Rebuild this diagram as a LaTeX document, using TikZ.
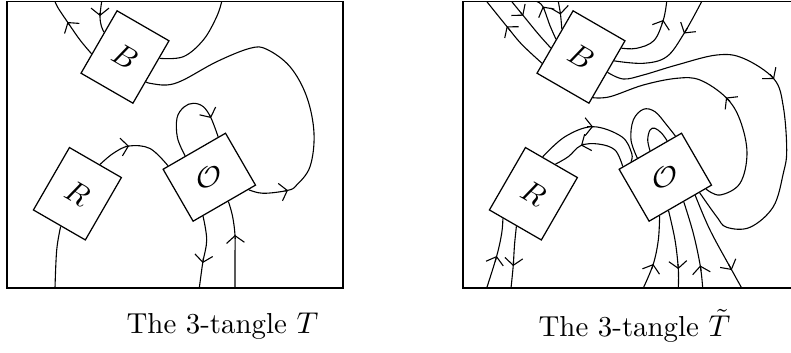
\documentclass[tikz,border=0pt]{standalone}
\usetikzlibrary{calc,arrows.meta}
\begin{document}
\begin{tikzpicture}[x=0.3636pt,y=-0.3636pt,
  strand/.style={line width=0.4pt},
  frame/.style={line width=0.55pt},
  tboxv/.style={draw, line width=0.45pt, inner sep=0pt, minimum width=21.8pt, minimum height=26.2pt, rotate=-30, font=\fontsize{10.5}{12.6}\selectfont},
  tboxh/.style={draw, line width=0.45pt, inner sep=0pt, minimum width=26.2pt, minimum height=21.8pt, rotate=30, font=\fontsize{10.5}{12.6}\selectfont},
  tip/.style={line width=0.4pt, -{Straight Barb[length=2.6pt,width=6.5pt]}},
  captext/.style={font=\fontsize{10.5}{12.6}\selectfont},
  sm/.style={smooth, tension=0.6}]
\useasboundingbox (0,0) rectangle (791,352);

% ---------------- left: T ----------------
\draw[frame] (7,1.5) rectangle (343,288);
\node[tboxv] (B) at (125,57) {$B$};
\node[tboxv] (R) at (77.4,193.75) {$R$};
\node[tboxh] (O) at (209.3,177.2) {\rotatebox{-30}{$\mathcal{O}$}};

\coordinate (t1) at (55,1.5);
\coordinate (t2) at (101.7,1.5);
\coordinate (t3) at (221.7,1.5);
\coordinate (d7) at (55,288);
\coordinate (d8) at (199.3,288);
\coordinate (d9) at (235,288);
\coordinate (B1) at ($(B.north west)!0.69!(B.south west)$);
\coordinate (B2) at ($(B.north west)!0.35!(B.south west)$);
\coordinate (B3) at ($(B.north east)!0.28!(B.south east)$);
\coordinate (B4) at ($(B.north east)!0.65!(B.south east)$);
\coordinate (O6) at ($(O.north west)!0.09!(O.north east)$);
\coordinate (O5a) at ($(O.north west)!0.36!(O.north east)$);
\coordinate (O5b) at ($(O.north west)!0.88!(O.north east)$);
\coordinate (O4) at ($(O.south east)!0.12!(O.south west)$);
\coordinate (O9) at ($(O.south east)!0.44!(O.south west)$);
\coordinate (O8) at ($(O.south east)!0.84!(O.south west)$);
\coordinate (R6) at ($(R.north west)!0.58!(R.north east)$);
\coordinate (R7) at ($(R.south east)!0.47!(R.south west)$);

\draw[strand] plot[sm] coordinates {(B1) (80,40) (67.5,22) (58.3,8.3) (t1)};
\draw[tip] (69.7,25.2) -- (67.5,22);
\draw[strand] plot[sm] coordinates {(t2) (100,16) (101.3,26) (B2)};
\draw[tip] (100,13) -- (100,16);
\draw[strand] plot[sm] coordinates {(B3) (183.3,56.7) (203.3,40) (216.7,16.7) (t3)};
\draw[strand] plot[sm] coordinates {(O4) (263.3,193.3) (288,190.3) (296.7,185) (310,166.7) (314,133.3) (306.7,96.7) (290,66.7) (266.7,49.3) (250,48.3) (216.7,61.7) (183.3,80) (166.7,85) (150,83.3) (B4)};
\draw[tip] (284.7,191.1) -- (288,190.3);
\draw[strand] plot[sm] coordinates {(O5a) (177.5,138) (177,118) (184,107) (193.3,103.3) (203.3,106.7) (211,118) (O5b)};
\draw[tip] (209.5,114.9) -- (211,118);
\draw[strand] plot[sm] coordinates {(R6) (113.3,153.3) (129,146) (150,148.5) (O6)};
\draw[tip] (125.3,146.5) -- (129,146);
\draw[strand] plot[sm] coordinates {(R7) (56.7,250) (d7)};
\draw[strand] plot[sm] coordinates {(O8) (206.7,240) (202.7,263) (d8)};
\draw[tip] (203.4,258.2) -- (202.7,263);
\draw[strand] plot[sm] coordinates {(d9) (235,255) (235,235) (232.5,216) (O9)};
\draw[tip] (235.25,238.9) -- (235,235);

\node[captext] (capT) at (222.5,326) {The 3-tangle $T$};

% ---------------- right: T tilde ----------------
\begin{scope}[xshift=165.8pt]
\draw[frame] (7,1.5) rectangle (343,288);
\node[tboxv] (Bt) at (125,57) {$B$};
\node[tboxv] (Rt) at (77.4,193.75) {$R$};
\node[tboxh] (Ot) at (209.3,177.2) {\rotatebox{-30}{$\mathcal{O}$}};

\coordinate (ta) at (30.7,1.5);
\coordinate (tb) at (55.7,1.5);
\coordinate (tc) at (80.7,1.5);
\coordinate (td) at (102.3,1.5);
\coordinate (te) at (210.7,1.5);
\coordinate (tf) at (245.7,1.5);
\coordinate (bs1) at (30.7,288);
\coordinate (bs2) at (55,288);
\coordinate (bp1) at (187.3,288);
\coordinate (bp2) at (222.3,288);
\coordinate (bp3) at (246.7,288);
\coordinate (bp4) at (285.7,288);

\coordinate (Ba) at ($(Bt.north west)!0.84!(Bt.south west)$);
\coordinate (Bb) at ($(Bt.north west)!0.6!(Bt.south west)$);
\coordinate (Bc) at ($(Bt.north west)!0.46!(Bt.south west)$);
\coordinate (Bd) at ($(Bt.north west)!0.3!(Bt.south west)$);
\coordinate (Be) at ($(Bt.north east)!0.12!(Bt.south east)$);
\coordinate (Bf) at ($(Bt.north east)!0.32!(Bt.south east)$);
\coordinate (Bg) at ($(Bt.north east)!0.5!(Bt.south east)$);
\coordinate (Bh) at ($(Bt.north east)!0.9!(Bt.south east)$);
\coordinate (Rr1) at ($(Rt.north west)!0.33!(Rt.north east)$);
\coordinate (Rr2) at ($(Rt.north west)!0.57!(Rt.north east)$);
\coordinate (Rs1) at ($(Rt.south east)!0.73!(Rt.south west)$);
\coordinate (Rs2) at ($(Rt.south east)!0.475!(Rt.south west)$);
\coordinate (Or2) at ($(Ot.north west)!0.07!(Ot.north east)$);
\coordinate (Or1) at ($(Ot.north west)!0.2!(Ot.north east)$);
\coordinate (Oo1) at ($(Ot.north west)!0.3!(Ot.north east)$);
\coordinate (Oi1) at ($(Ot.north west)!0.5!(Ot.north east)$);
\coordinate (Oi2) at ($(Ot.north west)!0.77!(Ot.north east)$);
\coordinate (Oo2) at ($(Ot.north west)!0.9!(Ot.north east)$);
\coordinate (Oh) at ($(Ot.south east)!0.1!(Ot.south west)$);
\coordinate (Og) at ($(Ot.south east)!0.2!(Ot.south west)$);
\coordinate (Op4) at ($(Ot.south east)!0.27!(Ot.south west)$);
\coordinate (Op3) at ($(Ot.south east)!0.45!(Ot.south west)$);
\coordinate (Op2) at ($(Ot.south east)!0.69!(Ot.south west)$);
\coordinate (Op1) at ($(Ot.south east)!0.83!(Ot.south west)$);

\draw[strand] plot[sm] coordinates {(Ba) (65.7,44.3) (50.7,26.3) (ta)};
\draw[tip] (54.2,30.6) -- (50.7,26.3);
\draw[strand] plot[sm] coordinates {(tb) (67.3,15.7) (82.3,34) (Bb)};
\draw[tip] (64.6,12.5) -- (67.3,15.7);
\draw[strand] plot[sm] coordinates {(Bc) (94,25.7) (86.8,6.5) (tc)};
\draw[tip] (88.1,8.9) -- (86.8,6.5);
\draw[strand] plot[sm] coordinates {(td) (104.5,14.5) (Bd)};
\draw[tip] (104.1,11.7) -- (104.5,14.5);
\draw[strand] plot[sm] coordinates {(Be) (180.7,48.3) (198,40.5) (207.3,20) (te)};
\draw[tip] (206,23.9) -- (207.3,20);
\draw[strand] plot[sm] coordinates {(tf) (228,33.5) (210.7,56.7) (187.3,63.3) (Bf)};
\draw[tip] (231.5,28) -- (228,33.5);
\draw[strand] plot[sm] coordinates {(Bg) (167.3,79) (187.3,75) (220.7,65) (260.7,55) (287.3,58.3) (318,79) (327.3,106.7) (330.7,150) (327.3,173.3) (317.3,206.7) (294,227.3) (270.7,227.3) (260.7,216.7) (Og)};
\draw[tip] (314,74.2) -- (318,79);
\draw[strand] plot[sm] coordinates {(Oh) (264,195) (284,183.3) (291,153) (284,120) (270,97.5) (244,80) (220.7,78.3) (187.3,85) (154,96.7) (Bh)};
\draw[tip] (274,101.5) -- (270,97.5);
\draw[strand] plot[sm] coordinates {(Rr1) (109,136.7) (137,126.7) (165.7,136.7) (175.7,153.3) (Or1)};
\draw[tip] (131.3,126.7) -- (137,126.7);
\draw[strand] plot[sm] coordinates {(Or2) (159,150) (142.3,144) (125,145.5) (112.3,156.7) (Rr2)};
\draw[tip] (128,144.2) -- (125,145.5);
\draw[strand] plot[sm] coordinates {(Oo1) (175,140) (177.3,120) (187.3,109.3) (199,111.7) (210.7,125) (Oo2)};
\draw[strand] plot[sm] coordinates {(Oi1) (191.7,140) (194,130) (199,128.3) (205.7,133.3) (Oi2)};
\draw[strand] plot[sm] coordinates {(bs1) (40.7,256) (45.7,233.3) (Rs1)};
\draw[tip] (39.2,261.5) -- (40.7,256);
\draw[strand] plot[sm] coordinates {(Rs2) (58.5,245) (57.2,266) (bs2)};
\draw[tip] (57.55,261.7) -- (57.2,266);
\draw[strand] plot[sm] coordinates {(bp1) (197.3,264) (202.3,240) (Op1)};
\draw[tip] (195.8,268.8) -- (197.3,264);
\draw[strand] plot[sm] coordinates {(Op2) (219,240) (222.3,269) (bp2)};
\draw[tip] (222,264.2) -- (222.3,269);
\draw[strand] plot[sm] coordinates {(bp3) (244.2,265.5) (237.3,233.3) (Op3)};
\draw[tip] (245.1,271) -- (244.2,265.5);
\draw[strand] plot[sm] coordinates {(Op4) (254,230) (275.7,270) (bp4)};
\draw[tip] (272.5,264.2) -- (275.7,270);
\end{scope}
\node[captext] (capTt) at (634.5,326) {The 3-tangle $\tilde{T}$};
\end{tikzpicture}
\end{document}
